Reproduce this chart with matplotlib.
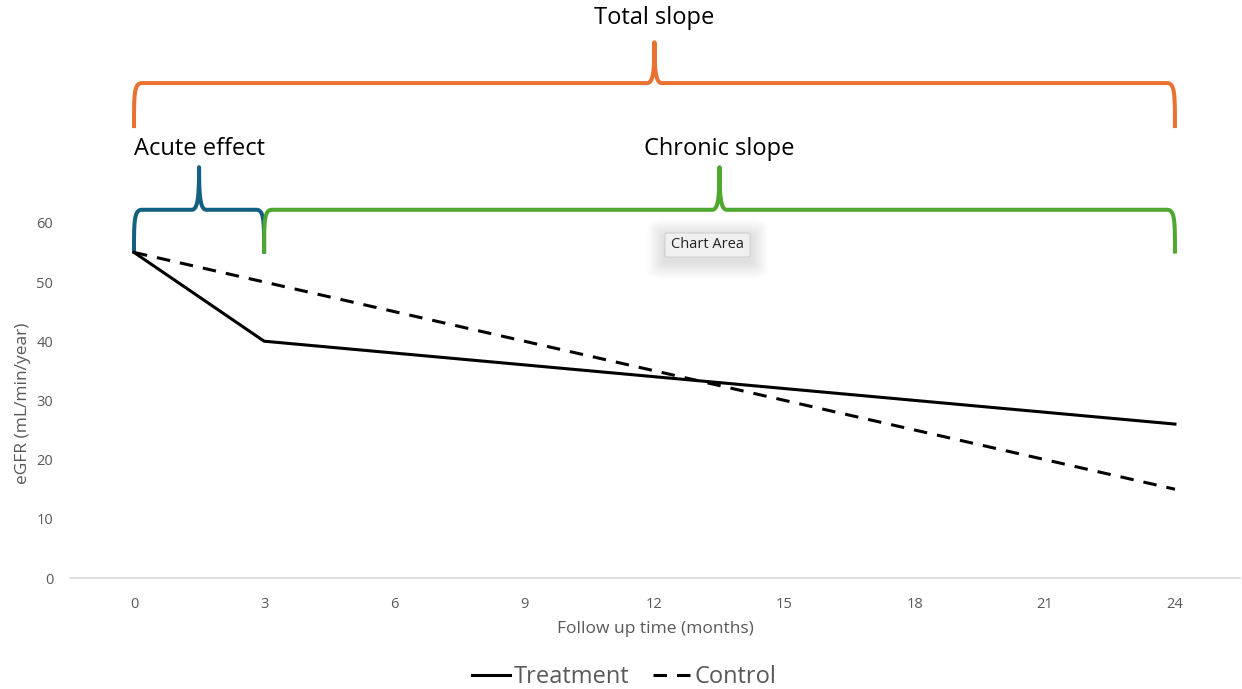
import matplotlib
matplotlib.use("Agg")
import matplotlib.pyplot as plt
from matplotlib.lines import Line2D
from matplotlib.patches import FancyBboxPatch
import numpy as np

plt.rcParams['font.family'] = ['Open Sans', 'DejaVu Sans']

# eGFR trajectories (mL/min/year) over follow-up months
treatment_months = [0, 3, 24]
treatment_egfr = [55, 40, 26]
control_months = [0, 24]
control_egfr = [55, 15]

x_ticks = [0, 3, 6, 9, 12, 15, 18, 21, 24]
y_ticks = [0, 10, 20, 30, 40, 50, 60]

# Brace annotations: (label, start month, end month, foot level, bar level, tip level, colour)
braces = [
    ("Total slope", 0, 24, 76.0, 83.6, 90.5, "#E97132"),
    ("Acute effect", 0, 3, 54.8, 62.2, 69.4, "#156082"),
    ("Chronic slope", 3, 24, 54.8, 62.2, 69.4, "#4EA72E"),
]

GREY_TEXT = "#595959"

W, H, DPI = 1242, 689, 100
fig = plt.figure(figsize=(W / DPI, H / DPI), dpi=DPI)
ax = fig.add_axes([70 / W, (H - 578) / H, 1170 / W, 562.4 / H])
ax.set_xlim(-1.4755, 25.5)
ax.set_ylim(0, 95)

ax.plot(treatment_months, treatment_egfr, color="black", lw=2.2,
        solid_joinstyle="miter", zorder=3)
ax.plot(control_months, control_egfr, color="black", lw=2.2,
        linestyle=(0, (4.4, 3.3)), dash_capstyle="butt", zorder=3)

for side in ("left", "right", "top"):
    ax.spines[side].set_visible(False)
ax.spines["bottom"].set_color("#D9D9D9")
ax.spines["bottom"].set_linewidth(1.2)
ax.set_xticks(x_ticks)
ax.set_yticks(y_ticks)
ax.tick_params(axis="both", length=0, labelsize=10.5, labelcolor=GREY_TEXT)
ax.tick_params(axis="x", pad=14)
ax.tick_params(axis="y", pad=12)
ax.set_xlabel("Follow up time (months)", fontsize=12.5, color=GREY_TEXT, labelpad=6)
ax.set_ylabel("eGFR (mL/min/year)", fontsize=12.5, color=GREY_TEXT)
ax.yaxis.set_label_coords(-0.033, 0.31)


def bezier(p0, p1, p2, p3, n=30):
    t = np.linspace(0, 1, n)[:, None]
    p0, p1, p2, p3 = map(np.asarray, (p0, p1, p2, p3))
    return ((1 - t) ** 3) * p0 + 3 * ((1 - t) ** 2) * t * p1 + 3 * (1 - t) * t ** 2 * p2 + t ** 3 * p3


def brace_path(x0, x1, y_foot, y_bar, y_tip):
    """Curly brace built in display pixels, returned in data coordinates."""
    tr = ax.transData
    (xa, yb), = tr.transform([(x0, y_foot)])
    (xb, _), = tr.transform([(x1, y_foot)])
    (_, yh), = tr.transform([(x0, y_bar)])
    xm = (xa + xb) / 2
    (_, yt), = tr.transform([(x0, y_tip)])
    r = 8.0      # corner width in pixels
    c = 7.5      # half-width of the tip cusp
    pts = []
    pts.append(bezier((xa, yb), (xa, yb + 0.75 * (yh - yb)), (xa, yh), (xa + r, yh)))
    pts.append(bezier((xm - c, yh), (xm - 1.5, yh), (xm, yh + 11), (xm, yt)))
    pts.append(bezier((xm, yt), (xm, yh + 11), (xm + 1.5, yh), (xm + c, yh)))
    pts.append(bezier((xb - r, yh), (xb, yh), (xb, yb + 0.75 * (yh - yb)), (xb, yb)))
    disp = np.vstack(pts)
    return tr.inverted().transform(disp)


for label, x0, x1, y_foot, y_bar, y_tip, col in braces:
    d = brace_path(x0, x1, y_foot, y_bar, y_tip)
    ax.plot(d[:, 0], d[:, 1], color=col, lw=2.9, solid_capstyle="butt",
            solid_joinstyle="round", clip_on=False, zorder=2)

# Brace labels
ax.text(12, 94.6, "Total slope", ha="center", va="center", fontsize=17,
        color="black", clip_on=False)
ax.text(1.5, 72.5, "Acute effect", ha="center", va="center", fontsize=17,
        color="black")
ax.text(13.5, 72.5, "Chronic slope", ha="center", va="center", fontsize=17,
        color="black")

# Hover tooltip over the chart area, with a soft drop shadow
tip_x, tip_y, tip_w, tip_h = 665, 689 - 257, 85, 24
for k in range(16):
    grow = 18 - 1.1 * k
    fig.patches.append(FancyBboxPatch(
        ((tip_x - grow) / W, (tip_y - grow - 4) / H), (tip_w + 2 * grow) / W,
        (tip_h + 2 * grow) / H,
        boxstyle=f"round,pad=0,rounding_size={max(grow, 1) / W:.4f}",
        transform=fig.transFigure, facecolor="black", edgecolor="none",
        alpha=0.006, zorder=5))
fig.patches.append(FancyBboxPatch(
    (tip_x / W, tip_y / H), tip_w / W, tip_h / H,
    boxstyle="round,pad=0,rounding_size=0.002", transform=fig.transFigure,
    facecolor="#F0F0F0", edgecolor="#D0D0D0", lw=0.8, zorder=6))
fig.text((tip_x + tip_w / 2) / W, (tip_y + tip_h / 2) / H, "Chart Area",
         ha="center", va="center", fontsize=10.5, color="#222222", zorder=7)

handles = [
    Line2D([], [], color="black", lw=2.2),
    Line2D([], [], color="black", lw=2.2, linestyle=(0, (4.4, 3.3)),
           dash_capstyle="butt"),
]
leg = fig.legend(handles, ["Treatment", "Control"], loc="center",
                 bbox_to_anchor=(624 / W, 1 - 677 / H), ncol=2, frameon=False,
                 fontsize=17, handlelength=1.6, handletextpad=0.15,
                 columnspacing=1.0)
for t in leg.get_texts():
    t.set_color(GREY_TEXT)

fig.savefig("out.png", dpi=DPI, facecolor="white")
